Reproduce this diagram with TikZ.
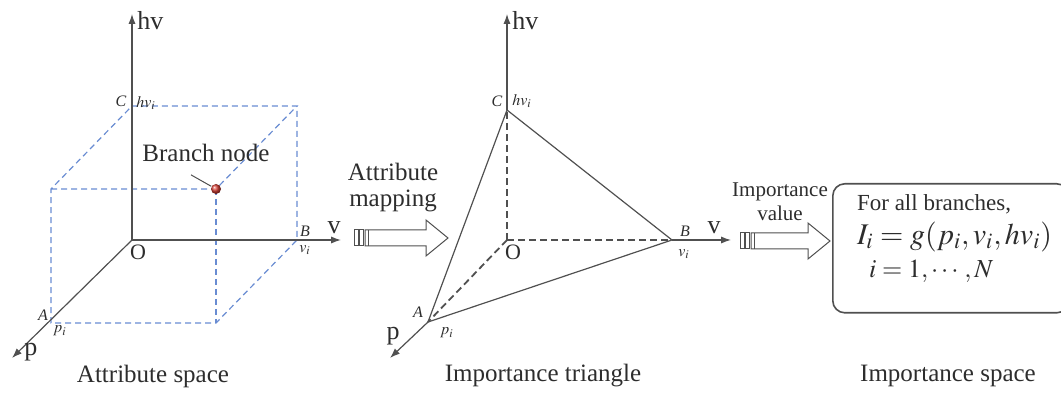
\documentclass[tikz,border=0pt]{standalone}
\usepackage{amsmath}
\usepackage{mathptmx}
\usepackage{fontspec}
\setmainfont{Liberation Serif}
\usepackage{tikz}
\usetikzlibrary{calc,positioning,arrows.meta}
\definecolor{axisgray}{RGB}{80,80,80}
\definecolor{boxblue}{RGB}{105,140,210}
\definecolor{dotred}{RGB}{215,65,55}
\definecolor{textgray}{RGB}{45,45,45}

\begin{document}
\begin{tikzpicture}[x=0.5pt, y=-0.5pt, >={Latex[length=5pt,width=3.6pt]},
  axis/.style={axisgray, line width=0.6pt},
  cube/.style={boxblue, line width=0.6pt, dash pattern=on 3pt off 2pt},
  hidden/.style={axisgray, line width=0.9pt, dash pattern=on 3.5pt off 2pt},
  corner/.style={font=\fontsize{8}{9}\selectfont\itshape, text=textgray, inner sep=0.5pt},
  axlabel/.style={font=\fontsize{13}{14}\selectfont, text=textgray, inner sep=0.5pt},
  caption/.style={font=\fontsize{12.5}{13}\selectfont, text=textgray, align=center},
  fat/.style={axisgray, line width=0.5pt, fill=white}]

  \useasboundingbox (0,0) rectangle (1061,395);

  % attribute space
  \coordinate (O1) at (132,240);
  \coordinate (C1) at (132,106);
  \coordinate (B1) at (297,240);
  \coordinate (A1) at (51,323);
  \coordinate (T1) at (297,106);
  \coordinate (F1) at (51,189);
  \coordinate (G1) at (216,323);
  \coordinate (P1) at (216,189);
  \coordinate (hv1) at (132,14);
  \coordinate (v1) at (341,240);
  \coordinate (p1) at (12,358);

  \draw[cube] (F1) -- (P1) -- (T1) -- (C1) -- (F1) -- (A1) -- (G1) -- (B1) -- (T1);
  \draw[cube] (P1) -- (G1);
  \draw[axis, ->] (O1) -- (hv1);
  \draw[axis, ->] (O1) -- (v1);
  \draw[axis, ->] (O1) -- (p1);
  \node[circle, inner sep=0pt, minimum size=5pt, ball color=dotred] (bn1) at (P1) {};

  \node[axlabel, anchor=west] (hvl1) at (136,21) {hv};
  \node[axlabel] (vl1) at (334,228) {v};
  \node[axlabel] (pl1) at (31,352) {p};
  \node[font=\fontsize{11}{12}\selectfont, text=textgray] (ol1) at (138,252) {O};
  \node[corner] (cl1) at (121,101) {C};
  \node[corner] (hvi1) at (146,103) {$hv_i$};
  \node[corner] (bl1) at (305,231) {B};
  \node[corner] (vi1) at (305,250) {$v_i$};
  \node[corner] (al1) at (43,315) {A};
  \node[corner] (pi1) at (60,331) {$p_i$};
  \node[caption] (bnl) at (206,153) {Branch node};
  \draw[axisgray, line width=0.5pt] ($(bnl.south)+(-15,6)$) -- (bn1);
  \node[caption] (cap1) at (153,376) {Attribute space};

  % importance triangle
  \coordinate (O2) at (507,240);
  \coordinate (C2) at (507,110);
  \coordinate (B2) at (672,240);
  \coordinate (A2) at (428,322);
  \coordinate (hv2) at (507,14);
  \coordinate (v2) at (731,240);
  \coordinate (p2) at (390,358);

  \draw[hidden] (O2) -- (C2);
  \draw[hidden] (O2) -- (B2);
  \draw[hidden] (O2) -- (A2);
  \draw[axis] (A2) -- (B2) -- (C2) -- cycle;
  \draw[axis, ->] (C2) -- (hv2);
  \draw[axis, ->] (B2) -- (v2);
  \draw[axis, ->] (A2) -- (p2);

  \node[axlabel, anchor=west] (hvl2) at (511,21) {hv};
  \node[axlabel] (vl2) at (714,228) {v};
  \node[axlabel] (pl2) at (393,336) {p};
  \node[font=\fontsize{11}{12}\selectfont, text=textgray] (ol2) at (513,252) {O};
  \node[corner] (cl2) at (497,101) {C};
  \node[corner] (hvi2) at (522,101) {$hv_i$};
  \node[corner] (bl2) at (685,231) {B};
  \node[corner] (vi2) at (684,254) {$v_i$};
  \node[corner] (al2) at (418,312) {A};
  \node[corner] (pi2) at (447,333) {$p_i$};
  \node[caption] (cap2) at (543,376) {Importance triangle};

  % arrows
  \node[caption] (mapl) at (393,188) {Attribute\\mapping};
  \node[caption, font=\fontsize{10.5}{12}\selectfont] (vall) at (780,202) {Importance\\value};
  \foreach \x/\y/\l in {354/238/94, 740/241/90} {
    \draw[fat] (\x,\y-8) rectangle ++(4,16);
    \draw[fat] (\x+5.5,\y-8) rectangle ++(4,16);
    \draw[fat] (\x+11,\y-8) -- (\x+\l-22,\y-8) -- (\x+\l-22,\y-18) -- (\x+\l,\y)
      -- (\x+\l-22,\y+18) -- (\x+\l-22,\y+8) -- (\x+11,\y+8) -- cycle;
    \draw[axisgray, line width=0.5pt] (\x+14.5,\y-8) -- (\x+14.5,\y+8);
  }

  % importance space
  \node[draw=axisgray, line width=0.8pt, rounded corners=6pt, anchor=north west,
    minimum width=118pt, minimum height=64.5pt] (impbox) at (832,183) {};
  \node[caption, font=\fontsize{11.5}{13}\selectfont, anchor=west] (forall) at (850,204) {For all branches,};
  \node[anchor=west, text=textgray, font=\fontsize{15}{17}\selectfont] (gfun) at (850,237)
    {$I_i = g(p_i, v_i, hv_i)$};
  \node[anchor=west, text=textgray, font=\fontsize{13}{15}\selectfont] (irange) at (862,271)
    {$i = 1,\cdots,N$};
  \node[caption] (cap3) at (948,376) {Importance space};
\end{tikzpicture}
\end{document}
